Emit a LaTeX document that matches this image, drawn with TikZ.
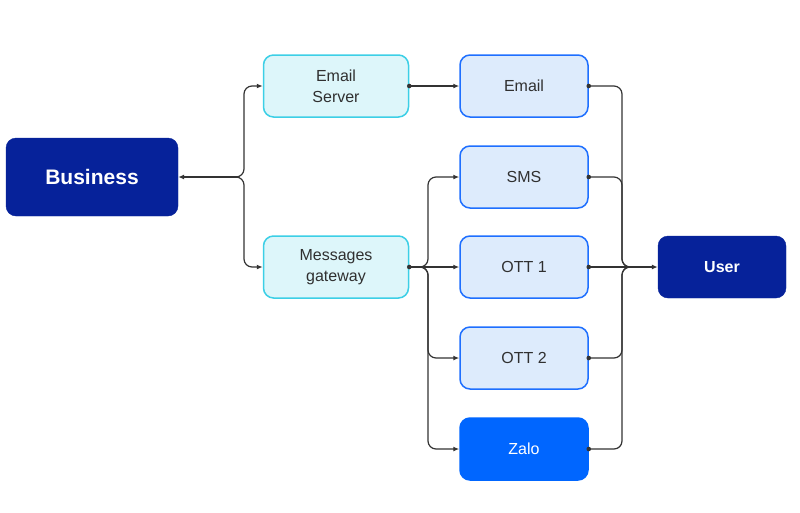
\documentclass[tikz,border=0pt]{standalone}
\usepackage{xcolor}
\usepackage{fontspec}
\setmainfont{Liberation Sans}
\usepackage{tikz}
\usetikzlibrary{calc}
\usetikzlibrary{shapes,arrows.meta}

\definecolor{navy}{HTML}{06229A}
\definecolor{cyanline}{HTML}{3CCFE6}
\definecolor{cyanfill}{HTML}{DDF6FA}
\definecolor{blueline}{HTML}{1E6FFF}
\definecolor{bluefill}{HTML}{DDEBFC}
\definecolor{zaloblue}{HTML}{0066FF}
\definecolor{linkgray}{HTML}{333333}
\definecolor{textgray}{HTML}{303030}

\begin{document}
\begin{tikzpicture}[x=1pt, y=-1pt,
        darkbox/.style={rectangle, rounded corners=10pt, fill=navy, draw=navy, text=white, font=\bfseries},
        srvbox/.style={rectangle, rounded corners=10pt, fill=cyanfill, draw=cyanline, line width=1.5pt,
                       minimum width=145pt, minimum height=62pt, align=center, text=textgray},
        chbox/.style={rectangle, rounded corners=10pt, fill=bluefill, draw=blueline, line width=1.5pt,
                      minimum width=128pt, minimum height=62pt, text=textgray},
        link/.style={draw=linkgray, line width=1.2pt, rounded corners=8pt,
                     >={Latex[length=6pt,width=5pt]}}]
        \useasboundingbox (0,0) rectangle (800,512);
        \fontsize{16}{21}\selectfont

        % Nodes
        \draw (92,177)  node(biz) [darkbox, minimum width=172pt, minimum height=78pt] {\fontsize{21}{24}\selectfont Business};
        \draw (336,86)  node(srv) [srvbox] {Email\\Server};
        \draw (336,267) node(gw)  [srvbox] {Messages\\gateway};
        \draw (524,86)  node(email) [chbox] {Email};
        \draw (524,177) node(sms)   [chbox] {SMS};
        \draw (524,267) node(ott1)  [chbox] {OTT 1};
        \draw (524,358) node(ott2)  [chbox] {OTT 2};
        \draw (524,449) node(zalo)  [chbox, fill=zaloblue, draw=zaloblue, text=white] {Zalo};
        \draw (722,267) node(user)  [darkbox, minimum width=128pt, minimum height=62pt] {User};

        % Junctions
        \coordinate (bj) at (237,177);
        \coordinate (gj) at (421,267);
        \coordinate (uj) at (629,267);

        % Edges
        \draw[link, ->] (bj) -- (biz.east);
        \draw[link, ->] (bj) -- ++(7,0) |- (srv.west);
        \draw[link, ->] (bj) -- ++(7,0) |- (gw.west);
        \draw[link, ->] (srv.east) -- (email.west);

        \draw[link, ->] (gw.east) -- (ott1.west);
        \draw[link, ->] (gj) -- ++(7,0) |- (sms.west);
        \draw[link, ->] (gj) -- ++(7,0) |- (ott2.west);
        \draw[link, ->] (gj) -- ++(7,0) |- (zalo.west);

        \draw[link] (email.east) -| ($(uj)+(-7,0)$) -- (uj);
        \draw[link] (sms.east)   -| ($(uj)+(-7,0)$) -- (uj);
        \draw[link] (ott2.east)  -| ($(uj)+(-7,0)$) -- (uj);
        \draw[link] (zalo.east)  -| ($(uj)+(-7,0)$) -- (uj);
        \draw[link, ->] (ott1.east) -- (user.west);

        % Start dots
        \foreach \n in {srv, gw, email, sms, ott1, ott2, zalo}
            \fill[linkgray] (\n.east) circle (2.3pt);
\end{tikzpicture}
\end{document}
